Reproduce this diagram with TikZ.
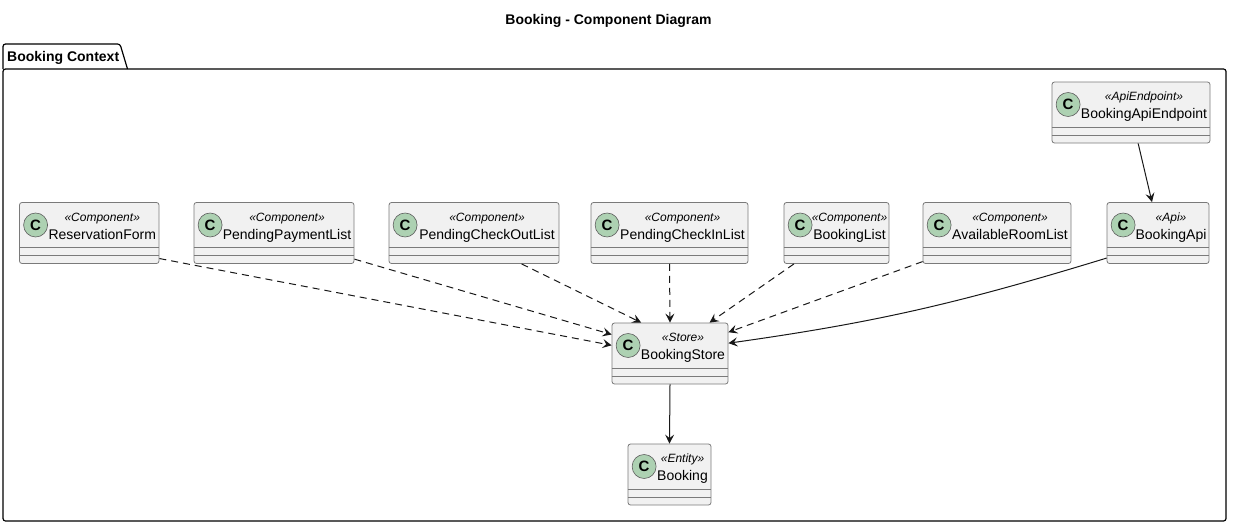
\documentclass[tikz,border=0pt]{standalone}
\usepackage{fontspec}
\setmainfont{Liberation Sans}
\usetikzlibrary{arrows.meta}
\definecolor{boxfill}{HTML}{F1F1F1}
\definecolor{boxline}{HTML}{7A7A7A}
\definecolor{spotfill}{HTML}{ADD1B2}
\definecolor{linecol}{HTML}{181818}
\tikzset{
	classbox/.style={draw=boxline, fill=boxfill, rounded corners=2.5pt, line width=.8pt,
		minimum height=61pt, inner sep=0pt},
	spot/.style={circle, draw=linecol!70, fill=spotfill, line width=.6pt, minimum size=24pt,
		inner sep=0pt, font=\fontsize{15}{15}\selectfont\bfseries},
	stereo/.style={anchor=base, inner sep=0pt, font=\fontsize{12}{14}\selectfont\itshape},
	classname/.style={anchor=base, inner sep=0pt, font=\fontsize{14}{16}\selectfont},
	rel/.style={draw=linecol, line width=1pt, -{Stealth[length=9pt,width=9pt,inset=3.5pt]}},
	dep/.style={rel, dash pattern=on 7pt off 5pt},
}
% name, centre x, centre y, width, stereotype, label
\newcommand{\classbox}[6]{
	\node[classbox, minimum width=#4pt] (#1) at (#2,#3) {};
	\node[spot] (#1c) at ([xshift=16.5pt,yshift=8pt]#1.west) {C};
	\node[stereo] (#1s) at ([xshift=13pt,yshift=12pt]#1.center) {«#5»};
	\node[classname] (#1n) at ([xshift=13pt,yshift=-6pt]#1.center) {#6};
	\draw[boxline, line width=.8pt] ([yshift=-14.5pt]#1.west) -- ([yshift=-14.5pt]#1.east);
	\draw[boxline, line width=.8pt] ([yshift=-22.5pt]#1.west) -- ([yshift=-22.5pt]#1.east);
}

\begin{document}
\begin{tikzpicture}[x=1pt,y=-1pt]
	\useasboundingbox (0,0) rectangle (1233,527);
	\node[font=\fontsize{14}{16}\selectfont\bfseries, inner sep=0pt] (title) at (608.5,20.5) {Booking - Component Diagram};
	% package
	\draw[black, line width=1.2pt, rounded corners=2.5pt] (3,69) -- (3,44) -- (120,44) -- (127.5,69);
	\draw[black, line width=1.2pt, rounded corners=2.5pt] (3,69) -- (1226,69) -- (1226,521) -- (3,521) -- cycle;
	\node[font=\fontsize{14}{16}\selectfont\bfseries, anchor=base west, inner sep=0pt] (ctx) at (7,62) {Booking Context};
	% classes
	\classbox{endpoint}{1131}{112.5}{158}{ApiEndpoint}{BookingApiEndpoint}
	\classbox{resform}{89.25}{233}{139.5}{Component}{ReservationForm}
	\classbox{payment}{274}{233}{160}{Component}{PendingPaymentList}
	\classbox{checkout}{474}{233}{170}{Component}{PendingCheckOutList}
	\classbox{checkin}{669.5}{233}{157}{Component}{PendingCheckInList}
	\classbox{booklist}{836.5}{233}{105}{Component}{BookingList}
	\classbox{rooms}{997}{233}{148}{Component}{AvailableRoomList}
	\classbox{api}{1158}{233}{102}{Api}{BookingApi}
	\classbox{store}{670}{353.5}{116}{Store}{BookingStore}
	\classbox{entity}{669.5}{474.5}{83}{Entity}{Booking}
	% relations
	\draw[dep] (resform.-20) -- (store.172);
	\draw[dep] (payment.-18) -- (store.162);
	\draw[dep] (checkout.-33) -- (store.133);
	\draw[dep] (checkin.south) -- (store.north);
	\draw[dep] (booklist.216) -- (store.38);
	\draw[dep] (rooms.201) -- (store.20);
	\draw[rel] (api.206) to[out=197,in=8] (store.10);
	\draw[rel] (endpoint.-77) -- (api.101);
	\draw[rel] (store.south) -- (entity.north);
\end{tikzpicture}
\end{document}
